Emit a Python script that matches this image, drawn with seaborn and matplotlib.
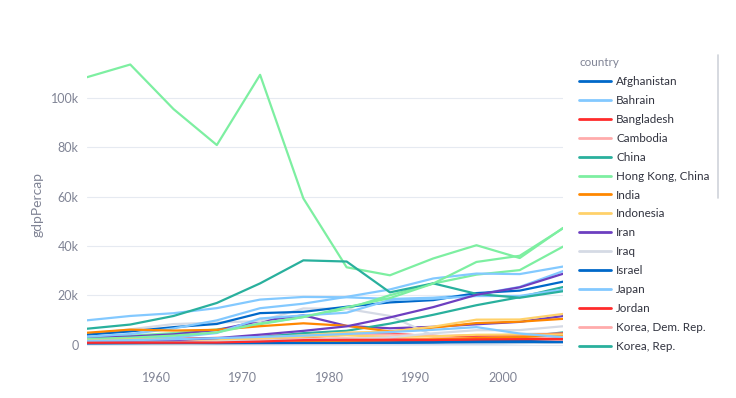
import numpy as np
import pandas as pd
import matplotlib.pyplot as plt
import seaborn as sns
from matplotlib.lines import Line2D

# -- gapminder, Asia, gdp per capita
years = [1952, 1957, 1962, 1967, 1972, 1977, 1982, 1987, 1992, 1997, 2002, 2007]

countries = [
	"Afghanistan", "Bahrain", "Bangladesh", "Cambodia", "China",
	"Hong Kong, China", "India", "Indonesia", "Iran", "Iraq", "Israel",
	"Japan", "Jordan", "Korea, Dem. Rep.", "Korea, Rep.", "Kuwait",
	"Lebanon", "Malaysia", "Mongolia", "Myanmar", "Nepal", "Oman",
	"Pakistan", "Philippines", "Saudi Arabia", "Singapore", "Sri Lanka",
	"Syria", "Taiwan", "Thailand", "Vietnam", "West Bank and Gaza",
	"Yemen, Rep.",
]

gdp_percap = [
	[779, 821, 853, 836, 740, 786, 978, 852, 649, 635, 727, 975],
	[9867, 11636, 12753, 14805, 18269, 19340, 19211, 18524, 19036, 20292, 23404, 29796],
	[684, 662, 686, 721, 630, 660, 677, 752, 838, 973, 1136, 1391],
	[368, 434, 497, 523, 422, 525, 624, 684, 682, 734, 896, 1714],
	[400, 576, 488, 613, 677, 741, 962, 1379, 1656, 2289, 3119, 4959],
	[3054, 3629, 4693, 6198, 8316, 11186, 14561, 20038, 24758, 28378, 30209, 39725],
	[547, 590, 658, 701, 724, 813, 856, 977, 1164, 1459, 1747, 2452],
	[750, 859, 849, 762, 1111, 1383, 1517, 1748, 2383, 3119, 2874, 3541],
	[3035, 3290, 4187, 5907, 9614, 11889, 7608, 6643, 7236, 8264, 9241, 11606],
	[4130, 6229, 8342, 8931, 9576, 14688, 14518, 11644, 3746, 3076, 4391, 4471],
	[4087, 5385, 7106, 8394, 12787, 13307, 15367, 17122, 18052, 20897, 21906, 25523],
	[3217, 4318, 6577, 9848, 14779, 16610, 19384, 22376, 26825, 28817, 28605, 31656],
	[1547, 1886, 2348, 2742, 2111, 2852, 4161, 4449, 3432, 3645, 3845, 4519],
	[1088, 1571, 1622, 2144, 3702, 4106, 4107, 4106, 3726, 1691, 1647, 1593],
	[1031, 1488, 1536, 2029, 3031, 4657, 5623, 8533, 12104, 15994, 19234, 23348],
	[108382, 113523, 95458, 80895, 109348, 59265, 31354, 28118, 34933, 40301, 35110, 47307],
	[4835, 6090, 5715, 6007, 7486, 8660, 7641, 5377, 6891, 8755, 9314, 10461],
	[1831, 1810, 2037, 2278, 2849, 3828, 4920, 5250, 7278, 10133, 10207, 12452],
	[787, 913, 1056, 1226, 1422, 1648, 2001, 2338, 1785, 1902, 2141, 3096],
	[331, 350, 388, 349, 357, 371, 424, 385, 347, 415, 611, 944],
	[546, 598, 652, 676, 675, 694, 718, 776, 898, 1011, 1057, 1091],
	[1828, 2243, 2925, 4721, 10618, 11848, 12955, 18115, 18617, 19702, 19775, 22316],
	[685, 747, 803, 942, 1050, 1176, 1443, 1705, 1972, 2049, 2093, 2606],
	[1273, 1548, 1650, 1814, 1989, 2373, 2603, 2190, 2279, 2537, 2651, 3190],
	[6460, 8158, 11626, 16903, 24837, 34168, 33693, 21198, 24842, 20587, 19015, 21655],
	[2315, 2843, 3675, 4977, 8598, 11210, 15169, 18862, 24770, 33519, 36023, 47143],
	[1084, 1073, 1074, 1136, 1213, 1349, 1648, 1877, 2154, 2664, 3015, 3970],
	[1643, 2117, 2193, 1882, 2571, 3195, 3762, 3117, 3341, 4014, 4091, 4185],
	[1207, 1508, 1823, 2644, 4063, 5597, 7426, 11055, 15216, 20207, 23235, 28718],
	[758, 794, 1002, 1295, 1524, 1961, 2393, 2983, 4617, 5853, 5913, 7458],
	[605, 676, 772, 637, 700, 714, 707, 821, 989, 1386, 1764, 2442],
	[1516, 1827, 2199, 2650, 3133, 3683, 4336, 5107, 6018, 7111, 4515, 3025],
	[782, 805, 826, 862, 1265, 1830, 1978, 1972, 1879, 2117, 2235, 2281],
]

y_ticks = [0, 20000, 40000, 60000, 80000, 100000]
y_tick_labels = ["0", "20k", "40k", "60k", "80k", "100k"]
x_ticks = [1960, 1970, 1980, 1990, 2000]

base_colors = ["#0068c9", "#83c9ff", "#ff2b2b", "#ffabab", "#29b09d",
			   "#7defa1", "#ff8700", "#ffd16a", "#6d3fc0", "#d5dae5"]

# -- long form table
rows = []
for c, vals in zip(countries, gdp_percap):
	for yr, v in zip(years, vals):
		rows.append((c, yr, v))
df = pd.DataFrame(rows, columns=["country", "year", "gdpPercap"])

palette = [base_colors[i % len(base_colors)] for i in range(len(countries))]

sns.set_theme(style="white")
plt.rcParams['font.family'] = ['Lato', 'DejaVu Sans']

fig = plt.figure(figsize=(7.36, 3.98), dpi=100)
ax = fig.add_axes([87 / 736, 40 / 398, 476 / 736, 307 / 398])

sns.lineplot(data=df, x="year", y="gdpPercap", hue="country",
			 hue_order=countries, palette=palette, lw=1.6, ax=ax,
			 legend=True)

ax.set_xlim(1952, 2007)
ax.set_ylim(-5400, 119000)
ax.set_yticks(y_ticks)
ax.set_yticklabels(y_tick_labels)
ax.set_xticks(x_ticks)
ax.yaxis.grid(True, color="#e6eaf1", lw=0.8)
ax.set_axisbelow(True)
for s in ax.spines.values():
	s.set_visible(False)
ax.tick_params(axis="both", length=0, labelsize=9, colors="#808495")
ax.tick_params(axis="x", pad=10)
ax.tick_params(axis="y", pad=6)
ax.set_xlabel("")
ax.set_ylabel("gdpPercap", color="#808495", fontsize=10, labelpad=5)

# -- legend (only the visible part of the scrolled legend)
handles, labels = ax.get_legend_handles_labels()
ax.legend_.remove()
leg = fig.legend(handles[:15], labels[:15], title="country",
				 loc="upper left", bbox_to_anchor=(579 / 736, 1 - 57 / 398),
				 frameon=False, fontsize=8.4, title_fontsize=8.4,
				 handlelength=2.7, handletextpad=0.5, labelspacing=0.68,
				 borderaxespad=0, borderpad=0)
leg._legend_box.align = "left"
leg.get_title().set_color("#808495")
for t in leg.get_texts():
	t.set_color("#31333f")
for h in leg.legend_handles:
	h.set_linewidth(2)

# -- scrollbar of the legend
fig.add_artist(Line2D([718 / 736, 718 / 736], [1 - 55 / 398, 1 - 198 / 398],
					  color="#d0d3da", lw=1.2))

fig.savefig("out.png", dpi=100)
